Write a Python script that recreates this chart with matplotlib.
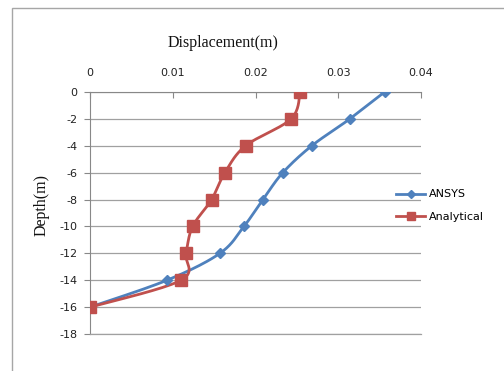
import numpy as np
import matplotlib
matplotlib.use("Agg")
import matplotlib.pyplot as plt
from matplotlib.patches import Rectangle
from matplotlib.lines import Line2D

depth = [0, -2, -4, -6, -8, -10, -12, -14, -16]
ansys = [0.0356, 0.0314, 0.0268, 0.0233, 0.0209, 0.0186, 0.0157, 0.0093, 0.0]
analytical = [0.0254, 0.0243, 0.0188, 0.0163, 0.0147, 0.0124, 0.0116, 0.0110, 0.0]
x_ticks = [0, 0.01, 0.02, 0.03, 0.04]
y_ticks = [0, -2, -4, -6, -8, -10, -12, -14, -16, -18]

BLUE = "#4F81BD"
RED = "#C0504D"


def smooth(xs, ys, n=20, tension=0.5):
    """Catmull-Rom style curve through the points, like a spreadsheet 'smoothed line'."""
    p = np.column_stack([xs, ys]).astype(float)
    p_ext = np.vstack([p[0], p, p[-1]])
    out = []
    t = np.linspace(0, 1, n, endpoint=False)
    for i in range(1, len(p_ext) - 2):
        p0, p1, p2, p3 = p_ext[i - 1], p_ext[i], p_ext[i + 1], p_ext[i + 2]
        m1 = tension * (p2 - p0)
        m2 = tension * (p3 - p1)
        h00 = 2 * t**3 - 3 * t**2 + 1
        h10 = t**3 - 2 * t**2 + t
        h01 = -2 * t**3 + 3 * t**2
        h11 = t**3 - t**2
        seg = (h00[:, None] * p1 + h10[:, None] * m1 +
               h01[:, None] * p2 + h11[:, None] * m2)
        out.append(seg)
    out.append(p[-1][None, :])
    arr = np.vstack(out)
    return arr[:, 0], arr[:, 1]


fig = plt.figure(figsize=(5.04, 3.71), dpi=100)
fig.patch.set_facecolor("white")

# outer chart frame
fig.patches.append(Rectangle((12 / 504, -0.05), 1.1, (371 - 8) / 371 + 0.05,
                             transform=fig.transFigure, fill=False,
                             edgecolor="#A6A6A6", linewidth=1.0))

ax = fig.add_axes([90 / 504, 1 - 334 / 371, (421 - 90) / 504, (334 - 92) / 371])
ax.set_xlim(0, 0.04)
ax.set_ylim(-18, 0)

# scale the data space so the smoothing is done in screen-like units
sx, sy = 1 / 0.04 * 331, 1 / 18 * 242
for xs, color, marker, ms, label in [
    (ansys, BLUE, "D", 5, "ANSYS"),
    (analytical, RED, "s", 8.5, "Analytical"),
]:
    cx, cy = smooth(np.array(xs) * sx, np.array(depth) * sy)
    ax.plot(cx / sx, cy / sy, color=color, linewidth=2.0, zorder=3)
    ax.plot(xs, depth, linestyle="none", marker=marker, markersize=ms,
            color=color, zorder=4)

ax.set_xticks(x_ticks)
ax.set_xticklabels(["0", "0.01", "0.02", "0.03", "0.04"])
ax.set_yticks(y_ticks)
ax.set_yticklabels([str(v) for v in y_ticks])
ax.xaxis.tick_top()
ax.tick_params(axis="x", direction="in", length=4, color="#888888",
               labelsize=8, labelcolor="#222222", pad=10)
ax.tick_params(axis="y", direction="out", length=4, color="#888888",
               labelsize=8, labelcolor="#222222", pad=5)
for lbl in ax.get_xticklabels() + ax.get_yticklabels():
    lbl.set_family("DejaVu Sans")

ax.grid(axis="y", color="#A0A0A0", linewidth=0.9)
ax.set_axisbelow(True)
ax.spines["right"].set_visible(False)
ax.spines["bottom"].set_color("#A0A0A0")
ax.spines["bottom"].set_linewidth(0.9)
ax.spines["top"].set_color("#888888")
ax.spines["left"].set_color("#888888")

fig.text(223 / 504, 1 - 43 / 371, "Displacement(m)", ha="center", va="center",
         family="Liberation Serif", fontsize=11.5, color="#111111")
fig.text(42 / 504, 1 - 205 / 371, "Depth(m)", ha="center", va="center",
         rotation=90, family="Liberation Serif", fontsize=11.5, color="#111111")

handles = [
    Line2D([], [], color=BLUE, linewidth=2, marker="D", markersize=4),
    Line2D([], [], color=RED, linewidth=2, marker="s", markersize=6),
]
fig.legend(handles, ["ANSYS", "Analytical"], loc="center left",
           bbox_to_anchor=(392 / 504, 1 - 205.5 / 371), frameon=False,
           fontsize=8, handlelength=2.6, handletextpad=0.3, labelspacing=1.1,
           borderaxespad=0)

fig.savefig("out.png", dpi=100)
